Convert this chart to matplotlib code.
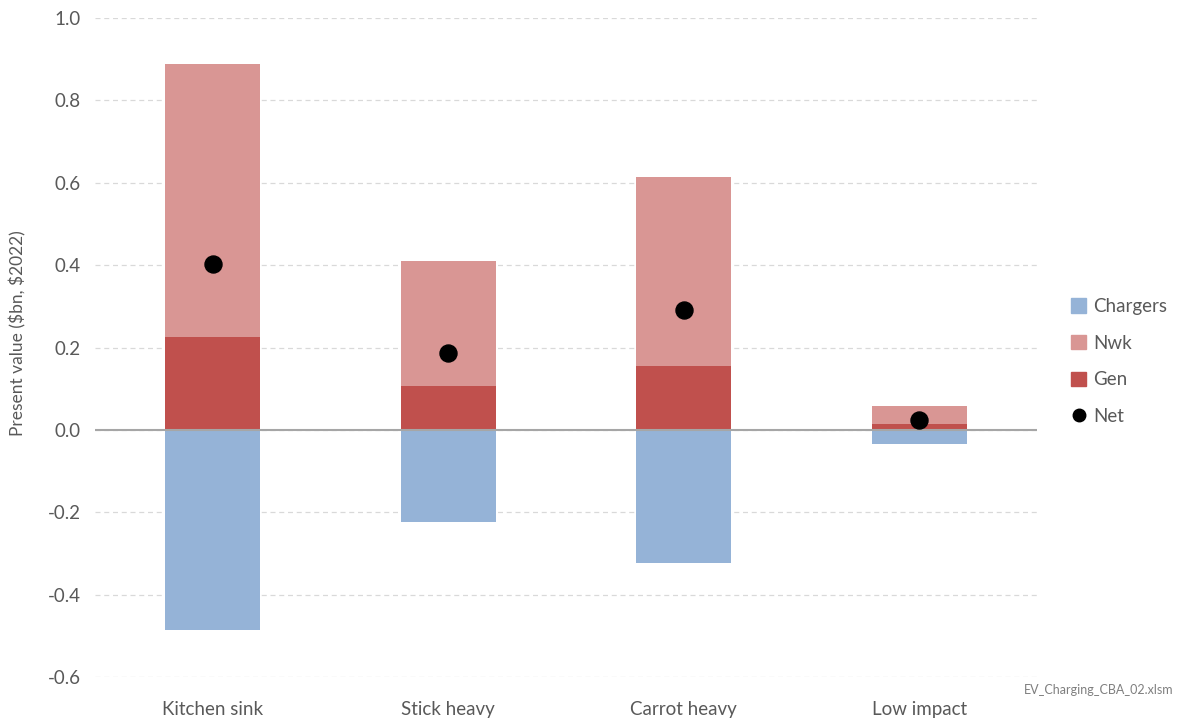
import numpy as np
import matplotlib
matplotlib.use("Agg")
import matplotlib.pyplot as plt
from matplotlib.lines import Line2D
from matplotlib.patches import Patch

plt.rcParams['font.family'] = ['Lato', 'DejaVu Sans']

# Present value components by scenario ($bn, $2022)
scenarios = ["Kitchen sink", "Stick heavy", "Carrot heavy", "Low impact"]
chargers = [-0.485, -0.223, -0.323, -0.034]
gen = [0.226, 0.107, 0.155, 0.015]
nwk = [0.662, 0.303, 0.459, 0.044]
net = [0.403, 0.187, 0.291, 0.025]

C_CHARGERS = "#95b3d7"
C_NWK = "#d99694"
C_GEN = "#c0504d"
TEXT = "#595959"

fig = plt.figure(figsize=(11.77, 7.2), dpi=100)
ax = fig.add_axes([0.0807, 0.0597, 0.8003, 0.9153])

x = np.arange(len(scenarios))
w = 0.405
ax.bar(x, chargers, w, color=C_CHARGERS, zorder=2)
ax.bar(x, gen, w, color=C_GEN, zorder=2)
ax.bar(x, nwk, w, bottom=gen, color=C_NWK, zorder=2)
ax.scatter(x, net, s=150, color="black", zorder=4)

ax.axhline(0, color="#a6a6a6", lw=1.5, zorder=3)

ax.set_xlim(-0.5, len(scenarios) - 0.5)
ax.set_ylim(-0.6, 1.0)
ax.set_yticks(np.arange(-0.6, 1.01, 0.2))
ax.set_yticklabels([f"{v:.1f}" for v in np.arange(-0.6, 1.01, 0.2)])
ax.yaxis.grid(True, color="#d9d9d9", ls=(0, (4, 3)), lw=0.9, zorder=0)
ax.set_xticks(x)
ax.set_xticklabels(scenarios)

for s in ax.spines.values():
    s.set_visible(False)
ax.tick_params(length=0, labelsize=13.5, colors=TEXT, pad=10)
ax.tick_params(axis="x", pad=17)

ax.set_ylabel(r"Present value (\$bn, \$2022)", fontsize=12.5, color=TEXT)
ax.yaxis.set_label_coords(-0.073, 0.522)

handles = [
    Patch(color=C_CHARGERS, label="Chargers"),
    Patch(color=C_NWK, label="Nwk"),
    Patch(color=C_GEN, label="Gen"),
    Line2D([], [], marker="o", ls="", color="black", markersize=9, label="Net"),
]
leg = fig.legend(handles=handles, loc="center left", bbox_to_anchor=(0.902, 0.498),
                 frameon=False, fontsize=13.5, handlelength=0.8, handleheight=0.8,
                 handletextpad=0.4, labelspacing=1.05, borderpad=0)
for t in leg.get_texts():
    t.set_color(TEXT)

fig.text(0.997, 0.042, "EV_Charging_CBA_02.xlsm", ha="right", va="center",
         fontsize=9, color="#7f7f7f")

fig.savefig("out.png", dpi=100)
